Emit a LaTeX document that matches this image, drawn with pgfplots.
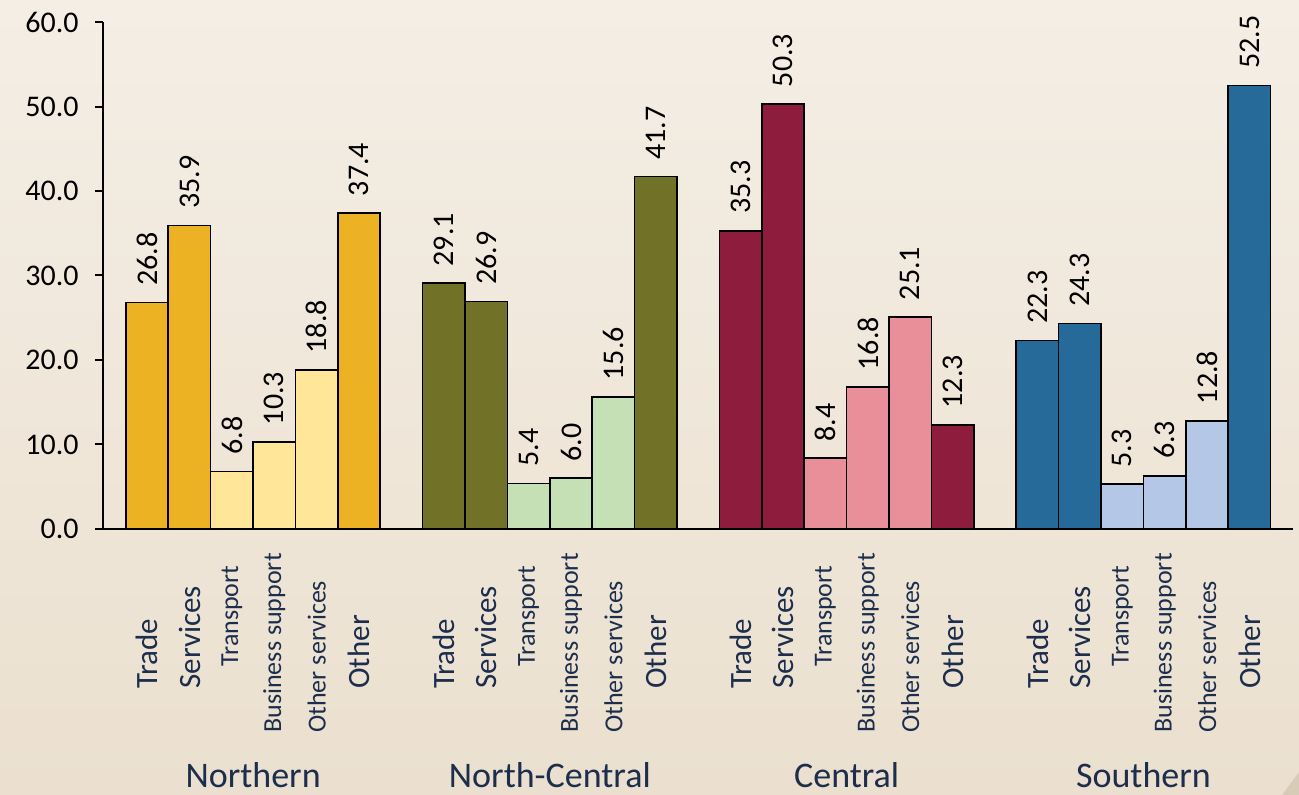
\documentclass[border=0pt]{standalone}
\usepackage{pgfplots}
\pgfplotsset{compat=1.18}
\usepackage{fontspec}
\setmainfont{Carlito}

\definecolor{bgtop}{HTML}{F4EEE5}
\definecolor{bgbot}{HTML}{EBE0CF}
\definecolor{foldc}{HTML}{D8CCB8}
\definecolor{catc}{HTML}{1C2E4C}
\definecolor{nDark}{HTML}{ECB224}
\definecolor{nLight}{HTML}{FFE699}
\definecolor{ncDark}{HTML}{717128}
\definecolor{ncLight}{HTML}{C5E0B4}
\definecolor{cDark}{HTML}{8E1C3D}
\definecolor{cLight}{HTML}{E88F99}
\definecolor{sDark}{HTML}{256A98}
\definecolor{sLight}{HTML}{B4C7E7}

\tikzset{
  bigcat/.style={rotate=90, anchor=west, inner sep=0pt, text=catc,
    font=\fontsize{15.5}{18}\selectfont},
  smallcat/.style={rotate=90, anchor=west, inner sep=0pt, text=catc,
    font=\fontsize{13}{15}\selectfont},
  region/.style={anchor=base, inner sep=0pt, text=catc,
    font=\fontsize{18}{21}\selectfont},
}

\begin{document}
\begin{tikzpicture}
\path[use as bounding box] (-51.5pt,-133pt) rectangle (598pt,264.5pt);
\shade[top color=bgtop, bottom color=bgbot] (-51.5pt,-133pt) rectangle (598pt,264.5pt);
\fill[foldc] (589.5pt,-133pt) -- (598pt,-133pt) -- (598pt,-121.5pt) -- cycle;

\begin{axis}[
  at={(0,0)}, anchor=south west,
  scale only axis, width=594.85pt, height=253.5pt,
  xmin=-1.04, xmax=27.02, ymin=0, ymax=60,
  axis lines*=left,
  axis line style={line width=1pt, black},
  axis on top,
  xtick=\empty,
  ytick={0,10,...,60},
  tick align=outside,
  major tick length=4pt,
  ytick style={line width=1pt, black},
  yticklabel style={font=\fontsize{15}{18}\selectfont, inner sep=0pt, xshift=-8pt},
  /pgf/number format/.cd, fixed, fixed zerofill, precision=1, assume math mode=true,
  /pgfplots/.cd,
  ybar, bar width=1, bar shift=0pt,
  clip=false,
  every axis plot/.append style={draw=black, line width=0.8pt},
  nodes near coords,
  every node near coord/.append style={rotate=90, anchor=west, inner sep=0pt,
    xshift=8pt, text=black, font=\fontsize{15}{18}\selectfont},
]
% Northern
\addplot[fill=nDark]  coordinates {(0,26.8) (1,35.9) (5,37.4)};
\addplot[fill=nLight] coordinates {(2,6.8) (3,10.3) (4,18.8)};
% North-Central
\addplot[fill=ncDark]  coordinates {(7,29.1) (8,26.9) (12,41.7)};
\addplot[fill=ncLight] coordinates {(9,5.4) (10,6.0) (11,15.6)};
% Central
\addplot[fill=cDark]  coordinates {(14,35.3) (15,50.3) (19,12.3)};
\addplot[fill=cLight] coordinates {(16,8.4) (17,16.8) (18,25.1)};
% Southern
\addplot[fill=sDark]  coordinates {(21,22.3) (22,24.3) (26,52.5)};
\addplot[fill=sLight] coordinates {(23,5.3) (24,6.3) (25,12.8)};

% category names under each bar
\node[bigcat]   at (axis cs:0,-18.93)  {Trade};
\node[bigcat]   at (axis cs:1,-18.93)  {Services};
\node[smallcat] at (axis cs:2,-16.33)  {Transport};
\node[smallcat] at (axis cs:3,-24.14)  {Business support};
\node[smallcat] at (axis cs:4,-24.14)  {Other services};
\node[bigcat]   at (axis cs:5,-18.93)  {Other};
\node[bigcat]   at (axis cs:7,-18.93)  {Trade};
\node[bigcat]   at (axis cs:8,-18.93)  {Services};
\node[smallcat] at (axis cs:9,-16.33)  {Transport};
\node[smallcat] at (axis cs:10,-24.14) {Business support};
\node[smallcat] at (axis cs:11,-24.14) {Other services};
\node[bigcat]   at (axis cs:12,-18.93) {Other};
\node[bigcat]   at (axis cs:14,-18.93) {Trade};
\node[bigcat]   at (axis cs:15,-18.93) {Services};
\node[smallcat] at (axis cs:16,-16.33) {Transport};
\node[smallcat] at (axis cs:17,-24.14) {Business support};
\node[smallcat] at (axis cs:18,-24.14) {Other services};
\node[bigcat]   at (axis cs:19,-18.93) {Other};
\node[bigcat]   at (axis cs:21,-18.93) {Trade};
\node[bigcat]   at (axis cs:22,-18.93) {Services};
\node[smallcat] at (axis cs:23,-16.33) {Transport};
\node[smallcat] at (axis cs:24,-24.14) {Business support};
\node[smallcat] at (axis cs:25,-24.14) {Other services};
\node[bigcat]   at (axis cs:26,-18.93) {Other};

% region names
\node[region] at (axis cs:2.5,-30.6)  {Northern};
\node[region] at (axis cs:9.5,-30.6)  {North-Central};
\node[region] at (axis cs:16.5,-30.6) {Central};
\node[region] at (axis cs:23.5,-30.6) {Southern};
\end{axis}
\end{tikzpicture}
\end{document}
